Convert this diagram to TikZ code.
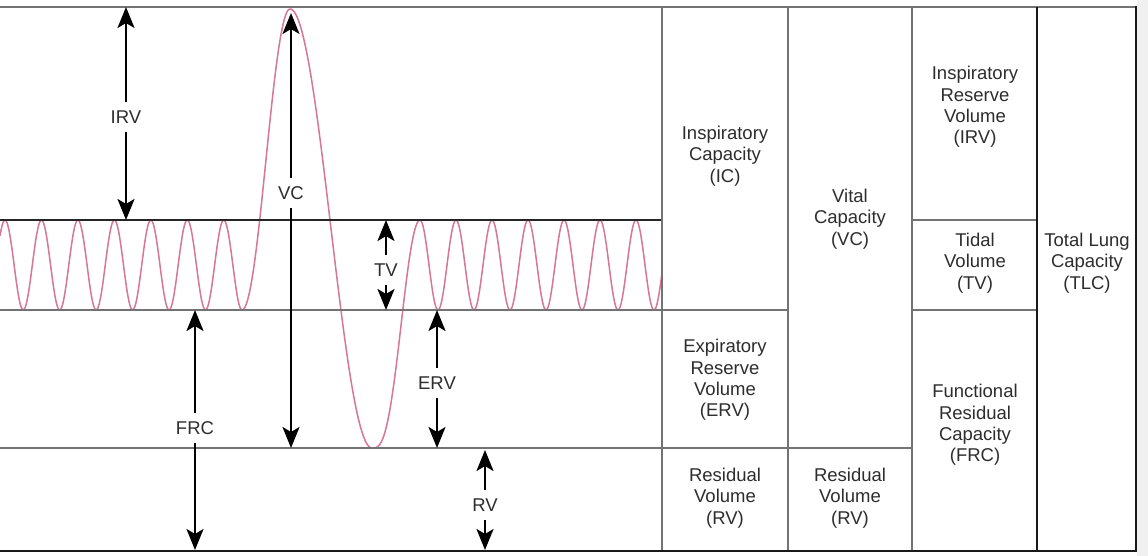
\documentclass[tikz,border=0pt]{standalone}
\usepackage{fontspec}
\setmainfont{Liberation Sans}
\usepackage{tikz}
\usetikzlibrary{arrows.meta}

\definecolor{wavecol}{RGB}{214,118,152}
\definecolor{textcol}{RGB}{45,45,45}
\newcommand{\chartfont}{\fontsize{18.5}{21.3}\selectfont}

\begin{document}
\begin{tikzpicture}[x=1pt, y=-1pt,
  grid/.style={line width=1.5pt, black!55},
  frame/.style={line width=2.4pt, black!90},
  wave/.style={line width=1.5pt, wavecol, line join=round},
  dim/.style={line width=2.3pt, black, -{Stealth[length=21pt, width=17pt, inset=5pt]}},
  lbl/.style={fill=white, inner xsep=2pt, inner ysep=8pt, font=\chartfont, text=textcol},
  cell/.style={align=center, font=\chartfont, text=textcol}]

% Canvas
\useasboundingbox (0,0) rectangle (1148,556);
\fill[white] (0,0) rectangle (1137,556);
\fill[black!6] (1137,0) rectangle (1148,556);

% Spirometer trace (tidal period about 36)
\draw[wave]
  plot[domain=0:242, samples=240] (\x, {265-45*cos(9.874*(\x-5))})
  -- plot[domain=0:1, samples=50] ({242+48*\x}, {310-301*(1-cos(180*\x))/2})
  -- plot[domain=0:1, samples=80] ({290+82*\x}, {9+439*(1-cos(180*\x))/2})
  -- plot[domain=0:1, samples=50] ({372+48*\x},
       {448-228*((1-cos(180*\x))/2)*sqrt((1-cos(180*\x))/2)})
  -- plot[domain=420:662, samples=240] (\x, {265-45*cos(10*(\x-420))});

% Chart lines
\draw[grid] (0,7) -- (1136,7);
\draw[grid, black!85] (0,220) -- (662,220);
\draw[grid] (0,310) -- (788,310);
\draw[grid] (0,448) -- (912,448);

% Table lines
\draw[grid] (912,220) -- (1037,220);
\draw[grid] (912,310) -- (1037,310);
\draw[grid] (662,7) -- (662,551);
\draw[grid] (788,7) -- (788,551);
\draw[grid] (912,7) -- (912,551);
\draw[frame, line width=2pt] (1037,7) -- (1037,551);
\draw[frame] (1136,6) -- (1136,551) -- (0,551);

% Volume arrows
\coordinate (irv-top) at (126,7);
\coordinate (irv-bot) at (126,220);
\node[lbl] (irv) at (126,117) {IRV};
\draw[dim] (irv) -- (irv-top);
\draw[dim] (irv) -- (irv-bot);

\coordinate (vc-top) at (291,13);
\coordinate (vc-bot) at (291,448);
\node[lbl] (vc) at (291,193) {VC};
\draw[dim] (vc) -- (vc-top);
\draw[dim] (vc) -- (vc-bot);

\coordinate (tv-top) at (386,220);
\coordinate (tv-bot) at (386,310);
\node[lbl] (tv) at (386,270) {TV};
\draw[dim] (tv) -- (tv-top);
\draw[dim] (tv) -- (tv-bot);

\coordinate (erv-top) at (437,310);
\coordinate (erv-bot) at (437,448);
\node[lbl] (erv) at (437,383) {ERV};
\draw[dim] (erv) -- (erv-top);
\draw[dim] (erv) -- (erv-bot);

\coordinate (frc-top) at (195,310);
\coordinate (frc-bot) at (195,550);
\node[lbl] (frc) at (195,428) {FRC};
\draw[dim] (frc) -- (frc-top);
\draw[dim] (frc) -- (frc-bot);

\coordinate (rv-top) at (485,450);
\coordinate (rv-bot) at (485,550);
\node[lbl] (rv) at (485,505) {RV};
\draw[dim] (rv) -- (rv-top);
\draw[dim] (rv) -- (rv-bot);

% Table texts
\node[cell] (ic-cell)  at (725,156)  {Inspiratory\\Capacity\\(IC)};
\node[cell] (erv-cell) at (725,380)  {Expiratory\\Reserve\\Volume\\(ERV)};
\node[cell] (rv-cell)  at (725,498)  {Residual\\Volume\\(RV)};
\node[cell] (vc-cell)  at (850,219)  {Vital\\Capacity\\(VC)};
\node[cell] (rv-cell2) at (850,498)  {Residual\\Volume\\(RV)};
\node[cell] (irv-cell) at (975,107)  {Inspiratory\\Reserve\\Volume\\(IRV)};
\node[cell] (tv-cell)  at (975,263)  {Tidal\\Volume\\(TV)};
\node[cell] (frc-cell) at (975,425)  {Functional\\Residual\\Capacity\\(FRC)};
\node[cell] (tlc-cell) at (1087,263) {Total Lung\\Capacity\\(TLC)};

\end{tikzpicture}
\end{document}
